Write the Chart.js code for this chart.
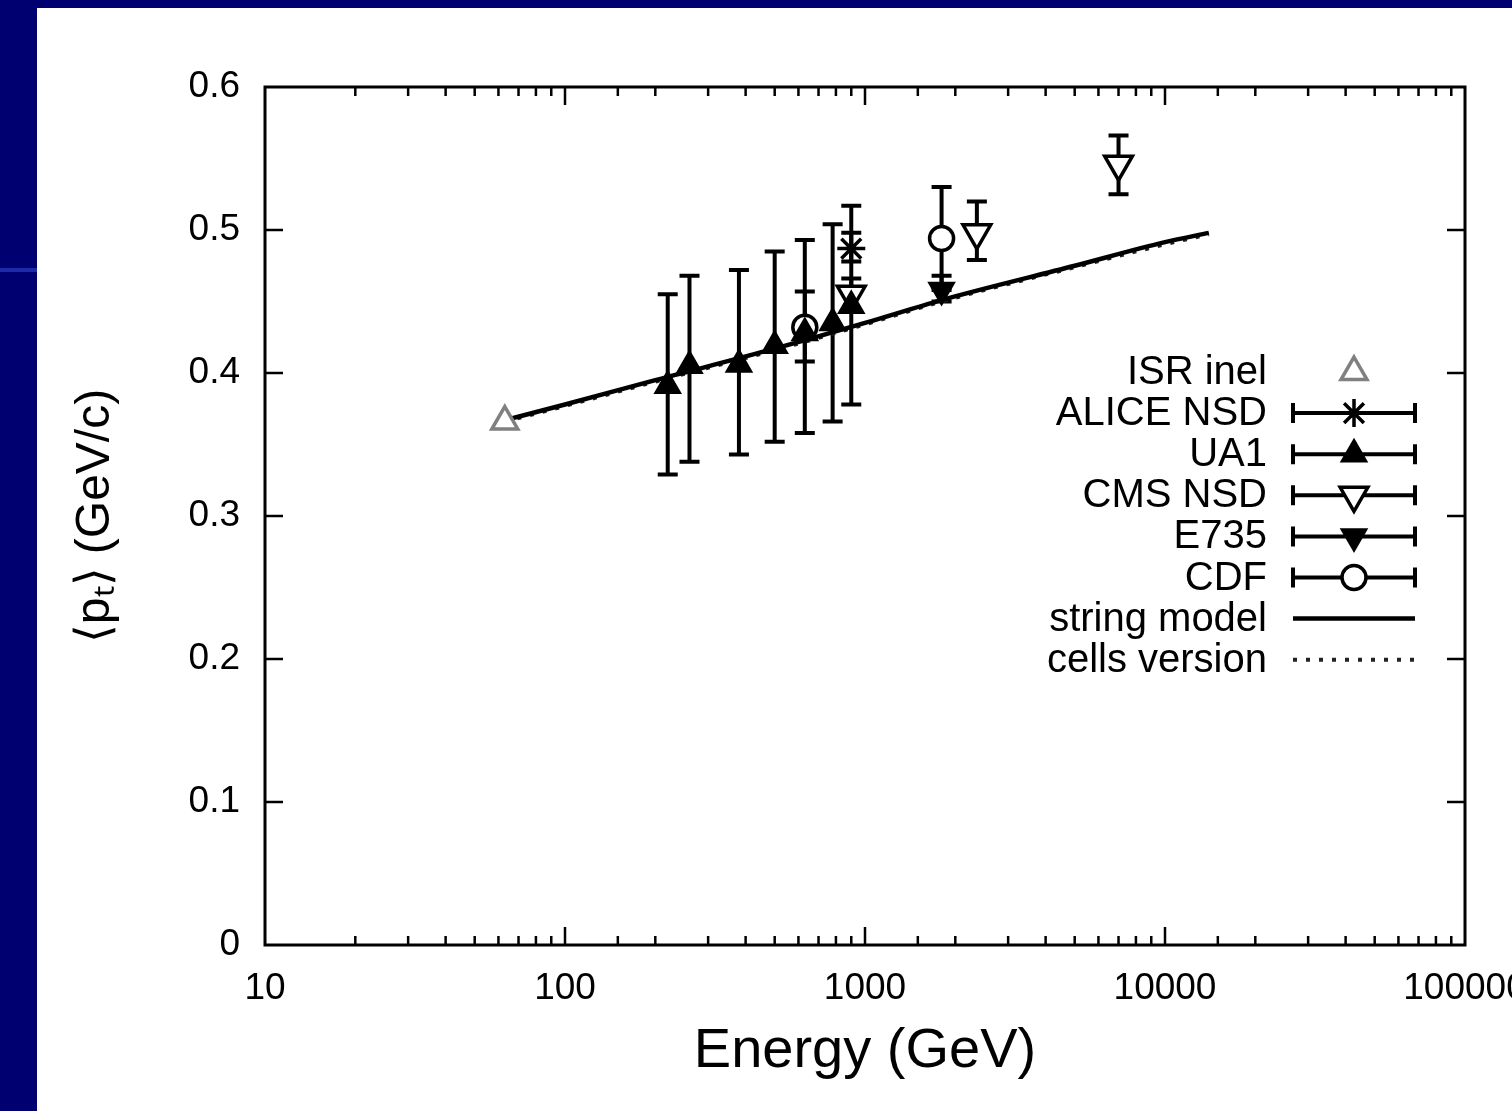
<!DOCTYPE html>
<html lang="en">
<head>
<meta charset="utf-8">
<title>Mean pt vs energy</title>
<style>
  html, body { margin: 0; padding: 0; background: #000070; width: 1512px; height: 1111px; overflow: hidden; }
  #panel { position: absolute; left: 37px; top: 8px; width: 1475px; height: 1103px; background: #ffffff; }
  #stripe { position: absolute; left: 0; top: 268px; width: 37px; height: 4px; background: #1c2aa8; }
</style>
<script src="https://cdn.jsdelivr.net/npm/chart.js@4.4.1/dist/chart.umd.min.js"></script>
</head>
<body>
<div id="stripe"></div>
<div id="panel"><canvas id="graph" width="1475" height="1103"></canvas></div>
<script>
  // data (energy in GeV, <pt> in GeV/c)
  var isrEnergy = [63];
  var isrPt = [0.366];

  var aliceEnergy = [900];
  var alicePt = [0.487];
  var aliceLow = [0.478];
  var aliceHigh = [0.498];

  var ua1Energy = [220, 260, 380, 500, 630, 780, 900];
  var ua1Pt = [0.391, 0.405, 0.406, 0.419, 0.428, 0.435, 0.447];
  var ua1Low = [0.329, 0.338, 0.343, 0.352, 0.358, 0.366, 0.378];
  var ua1High = [0.455, 0.468, 0.472, 0.485, 0.493, 0.504, 0.517];

  var cmsEnergy = [900, 2360, 7000];
  var cmsPt = [0.455, 0.498, 0.546];
  var cmsLow = [0.443, 0.479, 0.525];
  var cmsHigh = [0.466, 0.520, 0.566];

  var e735Energy = [1800];
  var e735Pt = [0.458];
  var e735Low = [0.450];
  var e735High = [0.468];

  var cdfEnergy = [630, 1800];
  var cdfPt = [0.432, 0.494];
  var cdfLow = [0.408, 0.458];
  var cdfHigh = [0.457, 0.530];

  var modelEnergy = [63, 100, 200, 500, 1000, 1800, 5000, 10000, 14000];
  var stringPt = [0.367, 0.378, 0.395, 0.417, 0.435, 0.451, 0.475, 0.4915, 0.498];
  var cellsPt = [0.366, 0.377, 0.394, 0.416, 0.434, 0.450, 0.474, 0.490, 0.497];

  var xTickLabels = [10, 100, 1000, 10000, 100000];
  var yTickLabels = [0, 0.1, 0.2, 0.3, 0.4, 0.5, 0.6];

  function points(xs, ys, lo, hi) {
    var out = [];
    for (var i = 0; i < xs.length; i++) {
      var p = { x: xs[i], y: ys[i] };
      if (lo) { p.low = lo[i]; p.high = hi[i]; }
      out.push(p);
    }
    return out;
  }

  Chart.defaults.font.family = "'Liberation Sans', Arial, sans-serif";
  Chart.defaults.color = '#000';

  var errorBarPlugin = {
    id: 'errorBars',
    beforeDatasetsDraw: function (chart) {
      var ctx = chart.ctx;
      var xs = chart.scales.x, ys = chart.scales.y;
      ctx.save();
      chart.data.datasets.forEach(function (ds, i) {
        if (!ds.errorBars || !chart.isDatasetVisible(i)) return;
        ctx.strokeStyle = ds.borderColor;
        ctx.lineWidth = ds.errorWidth;
        ds.data.forEach(function (p) {
          var px = xs.getPixelForValue(p.x);
          var top = ys.getPixelForValue(p.high);
          var bot = ys.getPixelForValue(p.low);
          ctx.beginPath();
          ctx.moveTo(px, top); ctx.lineTo(px, bot);
          ctx.moveTo(px - 10, top); ctx.lineTo(px + 10, top);
          ctx.moveTo(px - 10, bot); ctx.lineTo(px + 10, bot);
          ctx.stroke();
        });
      });
      ctx.restore();
    }
  };

  // gnuplot style frame with inward ticks on all four sides
  var framePlugin = {
    id: 'frame',
    afterDatasetsDraw: function (chart) {
      var ctx = chart.ctx, a = chart.chartArea;
      var xs = chart.scales.x, ys = chart.scales.y;
      ctx.save();
      ctx.strokeStyle = '#000';
      ctx.lineWidth = 2.5;
      ctx.beginPath();
      xs.ticks.forEach(function (t) {
        var px = xs.getPixelForValue(t.value);
        if (px <= a.left + 1 || px >= a.right - 1) return;
        var lg = Math.log10(t.value);
        var len = Math.abs(lg - Math.round(lg)) < 1e-6 ? 18 : 9;
        ctx.moveTo(px, a.bottom); ctx.lineTo(px, a.bottom - len);
        ctx.moveTo(px, a.top); ctx.lineTo(px, a.top + len);
      });
      ys.ticks.forEach(function (t) {
        var py = ys.getPixelForValue(t.value);
        if (py <= a.top + 1 || py >= a.bottom - 1) return;
        ctx.moveTo(a.left, py); ctx.lineTo(a.left + 18, py);
        ctx.moveTo(a.right, py); ctx.lineTo(a.right - 18, py);
      });
      ctx.stroke();
      ctx.lineWidth = 3;
      ctx.strokeRect(a.left, a.top, a.right - a.left, a.bottom - a.top);
      ctx.restore();
    }
  };

  var legendPlugin = {
    id: 'keyBox',
    afterDraw: function (chart) {
      var ctx = chart.ctx, a = chart.chartArea;
      var textX = a.right - 198;
      var x1 = a.right - 172, x2 = a.right - 50, xm = (x1 + x2) / 2;
      var y = a.top + 285;
      ctx.save();
      ctx.font = "40px 'Liberation Sans', Arial, sans-serif";
      ctx.textAlign = 'right';
      ctx.textBaseline = 'middle';
      chart.data.datasets.forEach(function (ds) {
        ctx.fillStyle = '#000';
        ctx.fillText(ds.label, textX, y + 1);
        ctx.strokeStyle = ds.borderColor;
        if (ds.errorBars) {
          ctx.lineWidth = ds.errorWidth;
          ctx.beginPath();
          ctx.moveTo(x1, y); ctx.lineTo(x2, y);
          ctx.moveTo(x1, y - 10); ctx.lineTo(x1, y + 10);
          ctx.moveTo(x2, y - 10); ctx.lineTo(x2, y + 10);
          ctx.stroke();
        }
        if (ds.showLine) {
          ctx.lineWidth = ds.borderWidth;
          ctx.setLineDash(ds.borderDash || []);
          ctx.beginPath();
          ctx.moveTo(x1, y); ctx.lineTo(x2, y);
          ctx.stroke();
          ctx.setLineDash([]);
        } else {
          ctx.fillStyle = ds.pointBackgroundColor;
          ctx.lineWidth = ds.pointBorderWidth;
          Chart.helpers.drawPoint(ctx, {
            pointStyle: ds.pointStyle,
            rotation: ds.pointRotation || 0,
            radius: ds.pointRadius,
            borderWidth: ds.pointBorderWidth
          }, xm, y);
        }
        y += 41.1;
      });
      ctx.restore();
    }
  };

  function markerSet(label, data, style, radius, fill, rotation, color) {
    return {
      label: label,
      data: data,
      showLine: false,
      errorBars: data.length && data[0].low !== undefined,
      errorWidth: 4,
      borderColor: color || '#000',
      pointStyle: style,
      pointRadius: radius,
      pointHoverRadius: radius,
      pointRotation: rotation || 0,
      pointBackgroundColor: fill,
      pointBorderColor: color || '#000',
      pointBorderWidth: 3.5
    };
  }

  var datasets = [
    markerSet('ISR inel', points(isrEnergy, isrPt), 'triangle', 15, '#fff', 0, '#808080'),
    markerSet('ALICE NSD', points(aliceEnergy, alicePt, aliceLow, aliceHigh), 'star', 14, '#000', 0),
    markerSet('UA1', points(ua1Energy, ua1Pt, ua1Low, ua1High), 'triangle', 13, '#000', 0),
    markerSet('CMS NSD', points(cmsEnergy, cmsPt, cmsLow, cmsHigh), 'triangle', 16, '#fff', 180),
    markerSet('E735', points(e735Energy, e735Pt, e735Low, e735High), 'triangle', 13, '#000', 180),
    markerSet('CDF', points(cdfEnergy, cdfPt, cdfLow, cdfHigh), 'circle', 12, '#fff', 0),
    {
      label: 'string model',
      data: points(modelEnergy, stringPt),
      showLine: true,
      borderColor: '#000',
      borderWidth: 4.5,
      pointRadius: 0,
      cubicInterpolationMode: 'monotone'
    },
    {
      label: 'cells version',
      data: points(modelEnergy, cellsPt),
      showLine: true,
      borderColor: '#222',
      borderWidth: 4,
      borderDash: [4, 9],
      pointRadius: 0,
      cubicInterpolationMode: 'monotone'
    }
  ];

  new Chart(document.getElementById('graph').getContext('2d'), {
    type: 'scatter',
    data: { datasets: datasets },
    options: {
      responsive: false,
      animation: false,
      layout: { padding: { top: 79, right: 47, left: 0, bottom: 0 } },
      plugins: {
        legend: { display: false },
        tooltip: { enabled: false }
      },
      scales: {
        x: {
          type: 'logarithmic',
          min: xTickLabels[0],
          max: xTickLabels[xTickLabels.length - 1],
          grid: { display: false, drawTicks: false },
          border: { display: false },
          ticks: {
            autoSkip: false,
            maxRotation: 0,
            padding: 22,
            font: { size: 37 },
            color: '#000',
            callback: function (v) {
              return xTickLabels.indexOf(v) >= 0 ? String(v) : '';
            }
          },
          title: {
            display: true,
            text: 'Energy (GeV)',
            font: { size: 56 },
            color: '#000',
            padding: { top: 0, bottom: 26 }
          },
          afterFit: function (s) { s.height = 166; s.paddingLeft = 0; s.paddingRight = 0; }
        },
        y: {
          min: yTickLabels[0],
          max: yTickLabels[yTickLabels.length - 1],
          grid: { display: false, drawTicks: false },
          border: { display: false },
          ticks: {
            stepSize: 0.1,
            padding: 25,
            font: { size: 37 },
            color: '#000',
            callback: function (v) { return String(Number(v.toFixed(1))); }
          },
          title: {
            display: true,
            text: '\u27E8p\u209C\u27E9 (GeV/c)',
            font: { size: 48 },
            color: '#000',
            padding: { top: 30 }
          },
          afterFit: function (s) { s.width = 228; s.paddingTop = 0; s.paddingBottom = 0; }
        }
      }
    },
    plugins: [errorBarPlugin, framePlugin, legendPlugin]
  });
</script>
</body>
</html>
